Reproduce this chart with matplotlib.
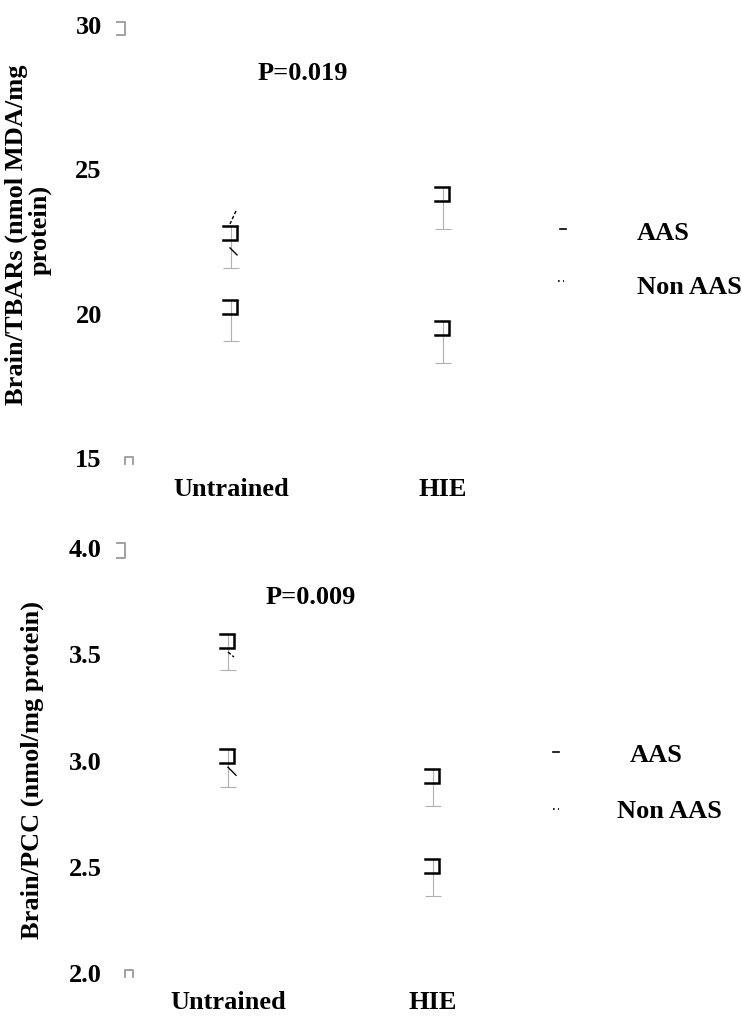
import matplotlib.pyplot as plt
from matplotlib.lines import Line2D

plt.rcParams['font.family'] = ['Liberation Serif', 'DejaVu Serif']
plt.rcParams['font.weight'] = 'bold'
plt.rcParams['font.size'] = 19

groups = ['Untrained', 'HIE']
series = ['AAS', 'Non AAS']

# Brain TBARs (nmol MDA/mg protein), mean and SEM
tbars_aas = [22.31, 23.66]
tbars_aas_sem = [0.73, 0.73]
tbars_non = [19.76, 19.02]
tbars_non_sem = [0.71, 0.73]
tbars_ticks = [15, 20, 25, 30]
tbars_p = 'P=0.019'

# Brain PCC (nmol/mg protein), mean and SEM
pcc_aas = [3.51, 2.875]
pcc_aas_sem = [0.085, 0.087]
pcc_non = [2.965, 2.45]
pcc_non_sem = [0.088, 0.088]
pcc_ticks = [2.0, 2.5, 3.0, 3.5, 4.0]
pcc_p = 'P=0.009'

W, H = 742, 1019
fig = plt.figure(figsize=(W / 100, H / 100), dpi=100)


def fx(px):
    return px / W


def fy(py):
    return 1 - py / H


def box(left, top, right, bottom):
    return [fx(left), fy(bottom), (right - left) / W, (bottom - top) / H]


def offset(ax, x, y, pts):
    # pixel offsets (dx right, dy down) around a data point -> data coords
    px, py = ax.transData.transform((x, y))
    inv = ax.transData.inverted()
    out = inv.transform([(px + dx, py - dy) for dx, dy in pts])
    return out[:, 0], out[:, 1]


def panel(ax, data, ticks, fmt, xpad, top_mark, bot_mark, hatches):
    ax.set_ylim(ticks[0], ticks[-1])
    ax.set_yticks(ticks)
    ax.set_yticklabels([fmt.format(t) for t in ticks])
    ax.set_xticks(range(len(groups)))
    ax.set_xticklabels(groups)
    ax.tick_params(axis='y', length=0, pad=9.5)
    ax.tick_params(axis='x', length=0, pad=xpad)
    for s in ax.spines.values():
        s.set_visible(False)

    xs = list(range(len(groups)))
    for si, (means, sems) in enumerate(data):
        ax.errorbar(xs, means, yerr=sems, fmt='none', ecolor='#b0b0b0',
                    elinewidth=0.8, capsize=5.5, capthick=0.8)
        for gi, (m, e) in enumerate(zip(means, sems)):
            bx, by = offset(ax, gi, m + e, [(-8, 0), (6, 0), (6, 14), (-8, 14)])
            ax.plot(bx, by, color='black', lw=1.8, solid_joinstyle='miter')
            for pts, ls in hatches.get((si, gi), []):
                hx, hy = offset(ax, gi, m + e, pts)
                ax.plot(hx, hy, color='black', lw=1.0, ls=ls)

    # leftovers of the y axis at the ends
    x0 = ax.get_xlim()[0]
    mx, my = offset(ax, x0, ticks[-1], top_mark)
    ax.plot(mx, my, color='#9a9a9a', lw=1.3, clip_on=False)
    mx, my = offset(ax, x0, ticks[0], bot_mark)
    ax.plot(mx, my, color='#9a9a9a', lw=1.3, clip_on=False)


ax1 = fig.add_axes(box(115, 25, 540, 458))
ax1.set_xlim((115 - 231) / 212, (540 - 231) / 212)
panel(ax1, [(tbars_aas, tbars_aas_sem), (tbars_non, tbars_non_sem)],
      tbars_ticks, '{:g}', 14.5,
      [(2, -3), (10, -3), (10, 10), (2, 10)],
      [(10, 6), (10, -1), (18, -1), (18, 6)],
      {(0, 0): [([(5, -15), (-1, -2)], (0, (2.5, 1.5))),
                ([(-1, 22), (6, 29)], '-')]})

ax2 = fig.add_axes(box(115, 548, 540, 973))
ax2.set_xlim((115 - 228) / 205, (540 - 228) / 205)
panel(ax2, [(pcc_aas, pcc_aas_sem), (pcc_non, pcc_non_sem)],
      pcc_ticks, '{:.1f}', 13.0,
      [(2, -5), (10, -5), (10, 10), (2, 10)],
      [(10, 4), (10, -3), (18, -3), (18, 4)],
      {(0, 0): [([(0, 18), (6, 23)], (0, (2.5, 1.5)))],
       (1, 0): [([(0, 18), (8, 26)], '-')]})

# y labels
fig.text(fx(16), fy(235), 'Brain/TBARs (nmol MDA/mg', rotation=90,
         ha='center', va='center')
fig.text(fx(40), fy(230), 'protein)', rotation=90, ha='center', va='center')
fig.text(fx(32), fy(770), 'Brain/PCC (nmol/mg protein)', rotation=90,
         ha='center', va='center')

# p values
fig.text(fx(303), fy(73), tbars_p, ha='center', va='center')
fig.text(fx(311), fy(598), pcc_p, ha='center', va='center')

# legends
legend_rows = [
    (560, 229, 637, 233, series[0], '-'),
    (558, 281, 637, 288, series[1], (0, (1, 2))),
    (553, 752, 630, 755, series[0], '-'),
    (553, 809, 617, 811, series[1], (0, (1, 2))),
]
for mx, my, tx, ty, label, ls in legend_rows:
    fig.add_artist(Line2D([fx(mx), fx(mx + 6)], [fy(my), fy(my)],
                          transform=fig.transFigure, color='black',
                          lw=1.2, ls=ls))
    fig.text(fx(tx), fy(ty), label, ha='left', va='center')

fig.savefig('out.png', dpi=100)
